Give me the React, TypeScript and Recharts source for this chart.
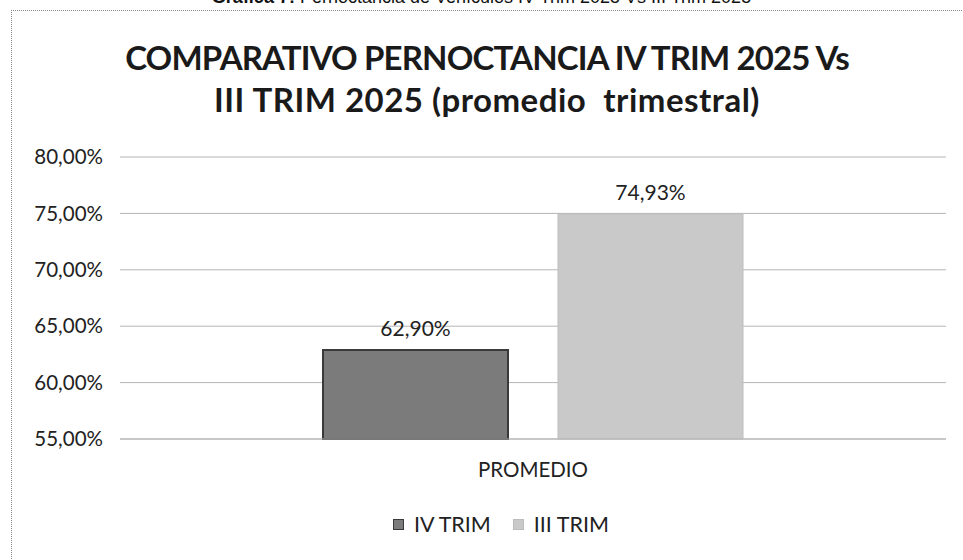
import React from "react";
import { BarChart, Bar, XAxis, YAxis, CartesianGrid, LabelList } from "recharts";

const categories = ["PROMEDIO"];
const seriesNames = ["IV TRIM", "III TRIM"];
const ivTrim = [62.9];
const iiiTrim = [74.93];
const yTicks = [55, 60, 65, 70, 75, 80];

const titleLines = ["COMPARATIVO PERNOCTANCIA IV TRIM 2025 Vs", "III TRIM 2025 (promedio  trimestral)"];
const captionBold = "Gráfica 7:";
const captionRest = " Pernoctancia de Vehículos IV Trim 2025 Vs III Trim 2025";

const colors = ["#7b7b7b", "#c9c9c9"];
const strokes = ["#3a3a3a", "#bdbdbd"];

const data = categories.map((c, i) => ({ name: c, iv: ivTrim[i], iii: iiiTrim[i] }));

const fmt = (v: number) => v.toFixed(2).replace(".", ",") + "%";
const FONT = "Lato, 'Open Sans', sans-serif";

export default function App() {
  return (
    <div style={{ position: "absolute", left: 0, top: 0, width: 963, height: 560, background: "#fff", overflow: "hidden", fontFamily: FONT }}>
      <div style={{ position: "absolute", left: 0, width: 963, top: -13, textAlign: "center", fontFamily: "'Liberation Sans', Arial, sans-serif", fontSize: 18, lineHeight: "20px", color: "#111" }}>
        <b>{captionBold}</b>{captionRest}
      </div>
      <div style={{ position: "absolute", left: 11, top: 10, width: 952, height: 560, borderLeft: "1px dotted #888", borderTop: "1px dotted #888" }} />
      <div style={{ position: "absolute", left: 11, width: 952, top: 36, textAlign: "center", fontWeight: 700, fontSize: 33, lineHeight: "42px", color: "#1a1a1a" }}>
        <div style={{ whiteSpace: "pre", letterSpacing: -0.85 }}>{titleLines[0]}</div>
        <div style={{ whiteSpace: "pre", letterSpacing: 0.5 }}>{titleLines[1]}</div>
      </div>
      <div style={{ position: "absolute", left: 0, top: 0 }}>
        <BarChart width={963} height={560} data={data} margin={{ top: 157, right: 17, bottom: 91, left: 0 }} barGap={50} barSize={185}>
          <CartesianGrid vertical={false} stroke="#b5b5b5" />
          <XAxis dataKey="name" tickLine={false} axisLine={{ stroke: "#b5b5b5" }} height={30} tick={{ fill: "#222", fontSize: 20.5, fontFamily: FONT }} tickMargin={17} />
          <YAxis domain={[55, 80]} ticks={yTicks} width={120} tickLine={false} axisLine={false} tickFormatter={fmt} tickMargin={11} tick={{ fill: "#222", fontSize: 20.5, fontFamily: FONT }} />
          <Bar dataKey="iv" name={seriesNames[0]} fill={colors[0]} stroke={strokes[0]} strokeWidth={2} isAnimationActive={false}>
            <LabelList dataKey="iv" position="top" offset={14} formatter={(v: any) => fmt(Number(v))} style={{ fill: "#222", fontSize: 21, fontFamily: FONT }} />
          </Bar>
          <Bar dataKey="iii" name={seriesNames[1]} fill={colors[1]} stroke={strokes[1]} strokeWidth={1} isAnimationActive={false}>
            <LabelList dataKey="iii" position="top" offset={14} formatter={(v: any) => fmt(Number(v))} style={{ fill: "#222", fontSize: 21, fontFamily: FONT }} />
          </Bar>
        </BarChart>
      </div>
      <div style={{ position: "absolute", left: 393, top: 511, display: "flex", gap: 22, fontSize: 21.5, lineHeight: "26px", color: "#222" }}>
        {seriesNames.map((n, i) => (
          <div key={n} style={{ display: "flex", alignItems: "center", gap: 10 }}>
            <span style={{ display: "inline-block", width: 9, height: 9, background: colors[i], border: `1px solid ${strokes[i]}` }} />
            <span>{n}</span>
          </div>
        ))}
      </div>
    </div>
  );
}
